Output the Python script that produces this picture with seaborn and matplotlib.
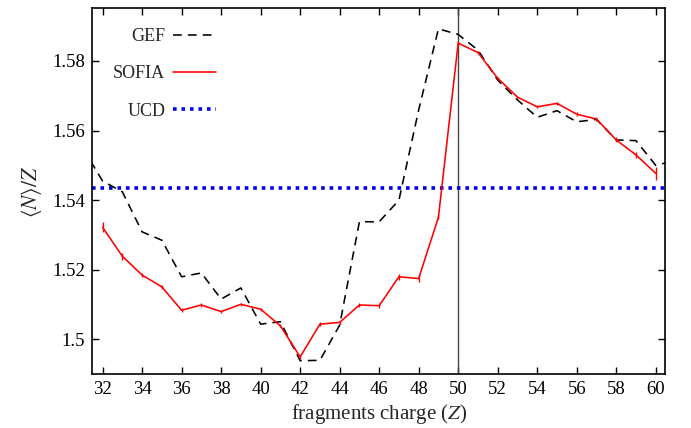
import numpy as np
import pandas as pd
import matplotlib
matplotlib.use("Agg")
import matplotlib.pyplot as plt
from matplotlib.ticker import FuncFormatter
import seaborn as sns

# ---- data ----
gef_z = [31, 32, 33, 34, 35, 36, 37, 38, 39, 40, 41, 42, 43, 44, 45, 46,
         47, 48, 49, 50, 51, 52, 53, 54, 55, 56, 57, 58, 59, 60, 61]
gef_val = [1.5549, 1.5455, 1.5424, 1.5309, 1.5285, 1.5180, 1.5191, 1.5116,
           1.5148, 1.5044, 1.5051, 1.4939, 1.4940, 1.5041, 1.5338, 1.5338,
           1.5400, 1.5659, 1.5892, 1.5876, 1.5831, 1.5745, 1.5688, 1.5638,
           1.5657, 1.5625, 1.5632, 1.5573, 1.5571, 1.5500, 1.5514]

sofia_z = [32, 33, 34, 35, 36, 37, 38, 39, 40, 41, 42, 43, 44, 45, 46,
           47, 48, 49, 50, 51, 52, 53, 54, 55, 56, 57, 58, 59, 60]
sofia_val = [1.5322, 1.5239, 1.5185, 1.5151, 1.5084, 1.5099, 1.5080, 1.5101,
             1.5087, 1.5039, 1.4950, 1.5044, 1.5049, 1.5099, 1.5097, 1.5180,
             1.5175, 1.5351, 1.5851, 1.5824, 1.5750, 1.5696, 1.5668, 1.5678,
             1.5647, 1.5633, 1.5573, 1.5530, 1.5477]
sofia_err = [0.0014, 0.0010, 0.0006, 0.0005, 0.0005, 0.0005, 0.0004, 0.0004,
             0.0004, 0.0004, 0.0005, 0.0006, 0.0005, 0.0006, 0.0007, 0.0008,
             0.0009, 0.0006, 0.0005, 0.0004, 0.0005, 0.0004, 0.0004, 0.0005,
             0.0005, 0.0006, 0.0007, 0.0008, 0.0018]

ucd_val = 1.5434
z_mark = 50

x_ticks = list(range(32, 61, 2))
y_ticks = [1.50, 1.52, 1.54, 1.56, 1.58]

# ---- style ----
sns.set_theme(style="ticks")
plt.rcParams["font.family"] = ["Liberation Serif", "DejaVu Serif"]
plt.rcParams["mathtext.fontset"] = "stix"
plt.rcParams["axes.linewidth"] = 1.2

fig = plt.figure(figsize=(6.91, 4.28), dpi=100)
ax = fig.add_axes([0.1336, 0.1255, 0.8288, 0.8551])

df_gef = pd.DataFrame({"Z": gef_z, "val": gef_val})
df_sofia = pd.DataFrame({"Z": sofia_z, "val": sofia_val})

ax.axvline(z_mark, color="#444444", lw=1.0, zorder=1)

sns.lineplot(data=df_gef, x="Z", y="val", ax=ax, color="black", lw=1.15,
             label="GEF", zorder=3)
ax.lines[-1].set_linestyle((0, (5.5, 3.8)))

sns.lineplot(data=df_sofia, x="Z", y="val", ax=ax, color="#ff0000", lw=1.15,
             label="SOFIA", zorder=4)
ax.errorbar(sofia_z, sofia_val, yerr=sofia_err, fmt="none", ecolor="#ff0000",
            elinewidth=1.0, capsize=0, zorder=4)

ax.axhline(ucd_val, color="#0000ee", lw=2.6, linestyle=(0, (1.0, 1.35)),
           label="UCD", zorder=2)

ax.set_xlim(31.48, 60.47)
ax.set_ylim(1.490, 1.5951)
ax.set_xticks(x_ticks)
ax.set_yticks(y_ticks)
ax.yaxis.set_major_formatter(FuncFormatter(lambda v, p: f"{v:g}"))
ax.tick_params(direction="in", length=5, width=1.0, top=True, right=True,
               labelsize=13.5, colors="black", pad=5)
for s in ax.spines.values():
    s.set_color("black")
    s.set_visible(True)

ax.set_xlabel(r"fragments charge ($Z$)", fontsize=15, labelpad=3)
ax.set_ylabel(r"$\langle N\rangle/Z$", fontsize=15.5, labelpad=6)

handles, labels = ax.get_legend_handles_labels()
leg = ax.legend(handles, labels, loc="upper left", frameon=False,
                markerfirst=False, fontsize=13, labelspacing=1.12,
                handlelength=2.35, handletextpad=0.45,
                bbox_to_anchor=(0.008, 0.99))

fig.savefig("out.png", dpi=100)
